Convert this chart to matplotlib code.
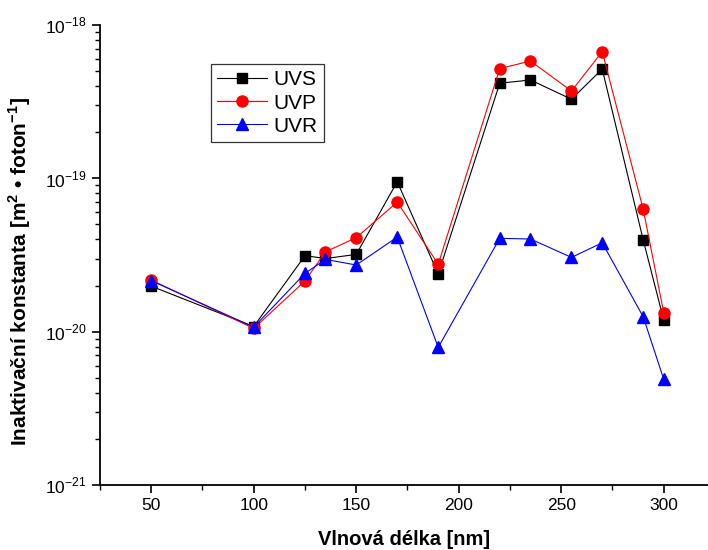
import matplotlib
matplotlib.use('Agg')
import matplotlib.pyplot as plt
from matplotlib.ticker import FixedLocator, MultipleLocator, NullFormatter

plt.rcParams['font.family'] = ['Liberation Sans', 'DejaVu Sans']
plt.rcParams['mathtext.fontset'] = 'custom'
plt.rcParams['mathtext.rm'] = 'Liberation Sans'
plt.rcParams['mathtext.bf'] = 'Liberation Sans:bold'

# wavelength [nm]
wavelength = [50, 100, 125, 135, 150, 170, 190, 220, 235, 255, 270, 290, 300]
# inactivation constants [m^2 / photon]
uvs = [1.98e-20, 1.08e-20, 3.13e-20, 3.0e-20, 3.19e-20, 9.5e-20, 2.38e-20,
       4.17e-19, 4.38e-19, 3.28e-19, 5.16e-19, 3.96e-20, 1.19e-20]
uvp = [2.17e-20, 1.05e-20, 2.14e-20, 3.32e-20, 4.1e-20, 7.0e-20, 2.75e-20,
       5.2e-19, 5.82e-19, 3.71e-19, 6.7e-19, 6.28e-20, 1.33e-20]
uvr = [2.15e-20, 1.07e-20, 2.4e-20, 2.96e-20, 2.72e-20, 4.14e-20, 7.9e-21,
       4.06e-20, 4.02e-20, 3.05e-20, 3.8e-20, 1.25e-20, 4.89e-21]
decades = [-21, -20, -19, -18]

fig = plt.figure(figsize=(7.08, 5.5), dpi=100)
ax = fig.add_axes([100 / 708, 1 - 485 / 550, 608 / 708, 460 / 550])

ax.plot(wavelength, uvs, color='black', marker='s', markersize=7, lw=0.8, label='UVS')
ax.plot(wavelength, uvp, color='red', marker='o', markersize=8, lw=0.8, label='UVP')
ax.plot(wavelength, uvr, color='blue', marker='^', markersize=9, lw=0.8, label='UVR')

ax.set_yscale('log')
ax.set_ylim(1e-21, 1e-18)
ax.set_xlim(25, 321.6)
ax.xaxis.set_major_locator(MultipleLocator(50))
ax.xaxis.set_minor_locator(MultipleLocator(25))
ax.set_yticks([10.0 ** d for d in decades])
ax.set_yticklabels([r'$10^{%d}$' % d for d in decades])
minor = [m * 10.0 ** d for d in decades[:-1] for m in range(2, 10)]
ax.yaxis.set_minor_locator(FixedLocator(minor))
ax.yaxis.set_minor_formatter(NullFormatter())

for side in ['top', 'right']:
    ax.spines[side].set_visible(False)
for side in ['left', 'bottom']:
    ax.spines[side].set_linewidth(1.3)

ax.tick_params(which='major', direction='out', length=6, width=1.2, labelsize=12.5)
ax.tick_params(which='minor', direction='out', length=3.5, width=1.0)

ax.set_xlabel('Vlnová délka [nm]', fontsize=14.5, fontweight='bold', labelpad=12)
ax.set_ylabel(r'Inaktivační konstanta [m$^{\mathbf{2}}$ • foton$^{\mathbf{-1}}$]',
              fontsize=15, fontweight='bold')
ax.yaxis.set_label_coords(-0.11, 0.463)

leg = ax.legend(loc='upper left', bbox_to_anchor=(0.1826, 0.915), borderaxespad=0,
                fontsize=15, frameon=True, fancybox=False, handlelength=2.4,
                labelspacing=0.2, borderpad=0.3, handletextpad=0.3)
leg.get_frame().set_edgecolor('black')
leg.get_frame().set_linewidth(0.9)

fig.savefig('out.png', dpi=100)
